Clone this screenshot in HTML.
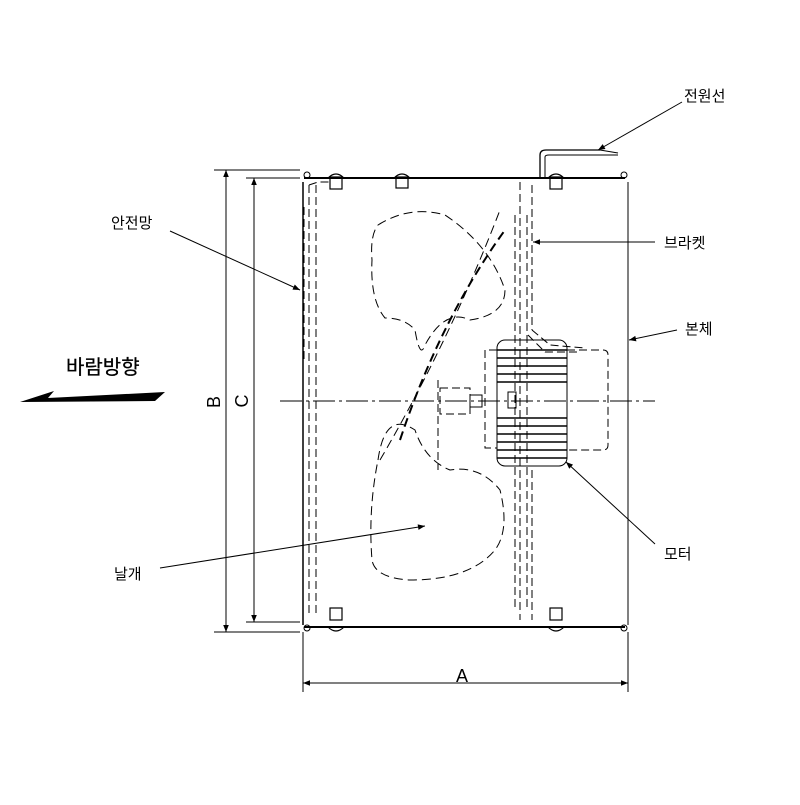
<!DOCTYPE html>
<html><head><meta charset="utf-8"><style>
body{margin:0;background:#fff}
text{font-family:"Liberation Sans","Noto Sans CJK KR",sans-serif;fill:#000}
</style></head><body>
<svg width="800" height="800" viewBox="0 0 800 800" xmlns="http://www.w3.org/2000/svg">
<defs><marker id="ar" viewBox="0 0 10 10" refX="10" refY="5" markerWidth="9" markerHeight="7" orient="auto-start-reverse"><path d="M0,1 L10,5 L0,9z" fill="#000"/></marker></defs>
<g stroke="#000" fill="none" stroke-width="1">
<line x1="304" y1="178" x2="625" y2="178" stroke-width="2"/>
<line x1="304" y1="627" x2="625" y2="627" stroke-width="2"/>
<line x1="303" y1="182" x2="303" y2="625" stroke-width="1.5"/>
<line x1="628" y1="182" x2="628" y2="625"/>
<circle cx="307" cy="175" r="3"/><circle cx="624" cy="175" r="3"/>
<circle cx="307" cy="628" r="3"/><circle cx="624" cy="628" r="3"/>
<g stroke-width="1.2">
<rect x="330" y="177" width="12" height="12"/><rect x="396" y="177" width="12" height="11"/><rect x="550" y="177" width="12" height="12"/>
<rect x="330" y="608" width="12" height="12"/><rect x="550" y="608" width="12" height="12"/>
<path d="M328 178 Q336 170 344 178"/><path d="M394 178 Q402 170 410 178"/><path d="M548 178 Q556 170 564 178"/>
<path d="M328 627 Q336 635 344 627"/><path d="M548 627 Q556 635 564 627"/>
</g>
<g stroke-dasharray="8,4">
<path d="M309 185 L318 182 L330 182"/>
<line x1="309" y1="185" x2="309" y2="615"/><line x1="316" y1="185" x2="316" y2="615"/>
<line x1="304" y1="207" x2="304" y2="360"/>
</g>
<g stroke-dasharray="8,4">
<line x1="520" y1="182" x2="520" y2="620"/><line x1="532" y1="185" x2="532" y2="330"/>
<line x1="515" y1="215" x2="515" y2="610"/><line x1="527" y1="215" x2="527" y2="610"/>
<path d="M532 330 L550 345 L585 348"/><path d="M528 335 L545 352 L580 352"/>
<line x1="532" y1="470" x2="532" y2="620"/>
</g>
<path d="M540 177 L540 155 Q540 150 546 150 L600 150" stroke-width="1.3"/>
<path d="M545 177 L545 157 Q545 155 549 155 L600 155" stroke-width="1"/>
<line x1="600" y1="150" x2="618" y2="153"/><line x1="600" y1="155" x2="618" y2="155"/>
<rect x="497" y="340" width="70" height="126" rx="8"/>
<g stroke-width="1.6">
<line x1="497" y1="350" x2="567" y2="350"/><line x1="497" y1="358" x2="567" y2="358"/><line x1="497" y1="366" x2="567" y2="366"/><line x1="497" y1="374" x2="567" y2="374"/><line x1="497" y1="382" x2="567" y2="382"/>
<line x1="497" y1="418" x2="567" y2="418"/><line x1="497" y1="426" x2="567" y2="426"/><line x1="497" y1="434" x2="567" y2="434"/><line x1="497" y1="442" x2="567" y2="442"/><line x1="497" y1="450" x2="567" y2="450"/><line x1="497" y1="458" x2="567" y2="458"/>
</g>
<g stroke-dasharray="8,4">
<path d="M497 350 L485 350 L485 448 L497 448"/>
<path d="M567 350 L603 350 Q608 350 608 355 L608 445 Q608 450 603 450 L567 450"/>
<rect x="440" y="388" width="30" height="26"/>
<line x1="438" y1="380" x2="438" y2="470"/>
</g>
<rect x="470" y="395" width="12" height="12"/>
<rect x="508" y="392" width="8" height="16"/>
<g stroke-dasharray="9,5">
<path d="M378 225 Q410 205 445 215 Q490 245 505 290 Q505 315 470 320 Q445 308 425 345 Q420 360 415 330 Q405 318 385 318 Q370 300 372 260 Q370 235 378 225Z"/>
<path d="M378 460 Q385 410 415 430 Q425 460 450 470 Q480 465 500 490 Q510 530 495 550 Q470 580 410 580 Q375 578 372 560 Q368 510 378 460Z"/>
<path d="M400 440 Q440 320 505 230" stroke-width="2"/>
<path d="M380 460 Q450 340 500 210"/>
</g>
<line x1="280" y1="401" x2="655" y2="401" stroke-dasharray="22,4,3,4"/>
<line x1="214" y1="170" x2="300" y2="170"/><line x1="214" y1="632" x2="300" y2="632"/>
<line x1="226" y1="170" x2="226" y2="632" marker-start="url(#ar)" marker-end="url(#ar)"/>
<line x1="246" y1="178" x2="300" y2="178"/><line x1="246" y1="622" x2="300" y2="622"/>
<line x1="254" y1="178" x2="254" y2="622" marker-start="url(#ar)" marker-end="url(#ar)"/>
<line x1="303" y1="632" x2="303" y2="692"/><line x1="628" y1="632" x2="628" y2="692"/>
<line x1="303" y1="683" x2="628" y2="683" marker-start="url(#ar)" marker-end="url(#ar)"/>
<line x1="170" y1="231" x2="300" y2="290" marker-end="url(#ar)"/>
<line x1="655" y1="242" x2="533" y2="242" marker-end="url(#ar)"/>
<line x1="677" y1="330" x2="629" y2="340" marker-end="url(#ar)"/>
<line x1="655" y1="544" x2="566" y2="462" marker-end="url(#ar)"/>
<line x1="160" y1="568" x2="425" y2="526" marker-end="url(#ar)"/>
<line x1="682" y1="102" x2="598" y2="150" marker-end="url(#ar)"/>
</g>
<polygon points="20,402 54,391 48,398 165,392 155,401" fill="#000"/>
<text x="66" y="374" font-size="20" stroke="#000" stroke-width="0.3">바람방향</text>
<text x="111" y="228" font-size="15">안전망</text>
<text x="114" y="579" font-size="15">날개</text>
<text x="684" y="101" font-size="15">전원선</text>
<text x="664" y="248" font-size="15">브라켓</text>
<text x="685" y="334" font-size="15">본체</text>
<text x="664" y="559" font-size="15">모터</text>
<text x="456" y="682" font-size="18">A</text>
<text transform="translate(220,402) rotate(-90)" font-size="18" text-anchor="middle">B</text>
<text transform="translate(248,401) rotate(-90)" font-size="18" text-anchor="middle">C</text>
</svg>
</body></html>
